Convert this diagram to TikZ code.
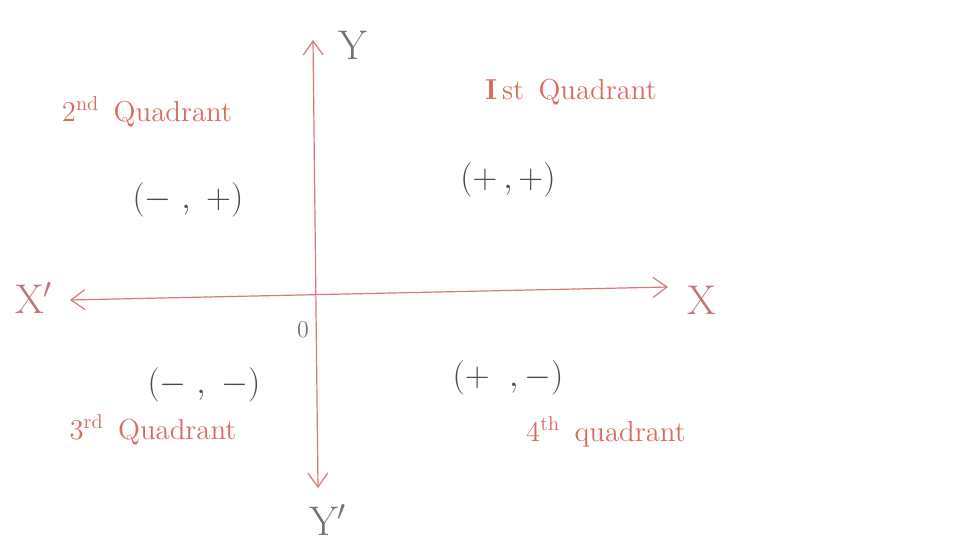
\documentclass[tikz,border=0pt]{standalone}
\usepackage{xcolor}
\usepackage{tikz}
\usetikzlibrary{arrows.meta}
\definecolor{pen}{HTML}{D9787A}
\definecolor{ink}{HTML}{4A4A4A}
\definecolor{pencil}{HTML}{7A7070}
\definecolor{redink}{HTML}{D96A5E}

\begin{document}
\begin{tikzpicture}[
        x=0.5pt,y=-0.5pt,
        axis/.style={draw=pen,line width=0.6pt,arrows={Straight Barb[length=7pt,width=10pt]-Straight Barb[length=7pt,width=10pt]}},
        sign/.style={text=ink,font=\LARGE},
        axlab/.style={text=pencil,font=\huge},
        quad/.style={text=redink,font=\Large}
      ]
      \useasboundingbox[fill=white] (0,0) rectangle (974,555);
      % axes
      \coordinate (ytop) at (313,40);
      \coordinate (ybot) at (318,488);
      \coordinate (xleft) at (70,300);
      \coordinate (xright) at (668,287);
      \draw[axis] (ybot) -- (ytop);
      \draw[axis] (xleft) -- (xright);
      \node[axlab] (ylab) at (353,45) {Y};
      \node[axlab] (ylabb) at (328,520) {Y$'$};
      \node[axlab,text=pen!70!pencil] (xlabl) at (34,298) {X$'$};
      \node[axlab,text=pen!70!pencil] (xlabr) at (702,300) {X};
      \node[text=pencil,font=\large] (orig) at (303,330) {0};
      % quadrants
      \node[quad] (q2) at (147,112) {2\textsuperscript{nd}\enspace Quadrant};
      \node[quad] (q1) at (571,92) {\textbf{I}\,st\enspace Quadrant};
      \node[quad] (q3) at (153,430) {3\textsuperscript{rd}\enspace Quadrant};
      \node[quad] (q4) at (606,432) {4\textsuperscript{th}\enspace quadrant};
      \node[sign] (s2) at (188,200) {$(-\;,\;+)$};
      \node[sign] (s1) at (508,180) {$(+\,,+)$};
      \node[sign] (s3) at (204,385) {$(-\;,\;-)$};
      \node[sign] (s4) at (508,378) {$(+\;\;,-)$};
    \end{tikzpicture}
\end{document}
